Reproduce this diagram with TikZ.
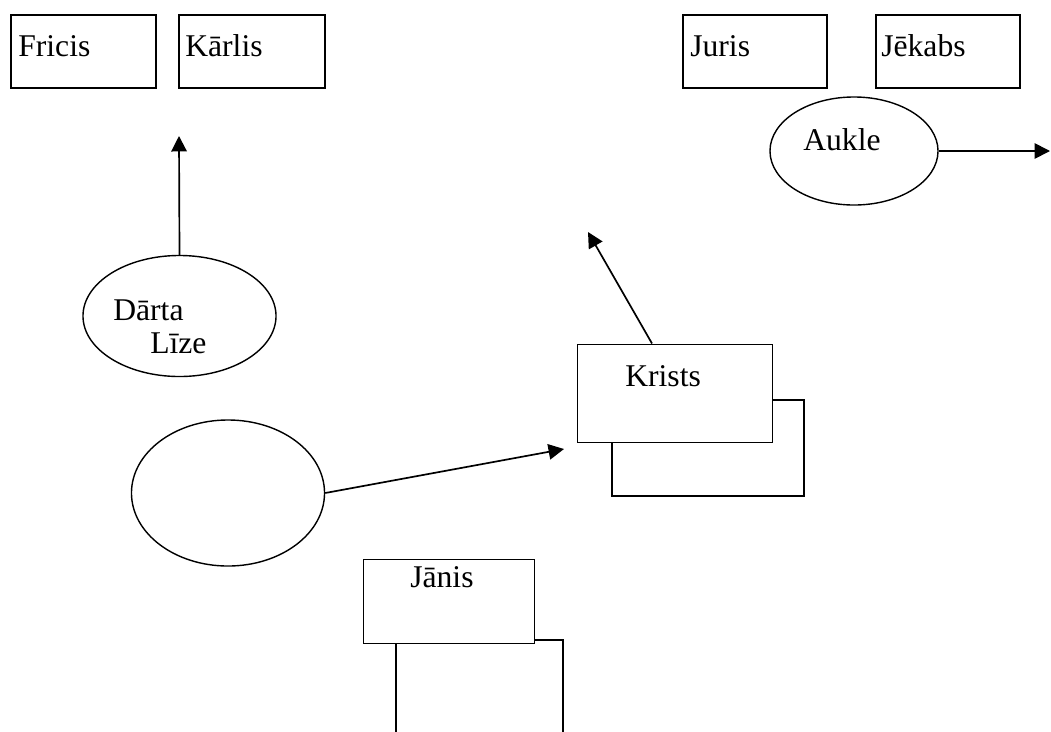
\documentclass[tikz,border=0pt]{standalone}
\usepackage{fontspec}
\setmainfont{Liberation Serif}
\usetikzlibrary{shapes.geometric,arrows.meta}

\begin{document}
\begin{tikzpicture}[x=0.025cm,y=-0.025cm]
\tikzstyle{box}=[rectangle,draw,line width=1pt,fill=white,inner sep=0pt]
\tikzstyle{backbox}=[rectangle,draw,line width=1.4pt,inner sep=0pt]
\tikzstyle{oval}=[ellipse,draw,line width=1pt,inner sep=0pt]
\tikzstyle{lbl}=[anchor=base west,inner sep=0pt,font=\fontsize{22.5}{26}\selectfont]
\tikzstyle{arr}=[line width=1.2pt,-{Triangle[length=11pt,width=11pt]}]
\useasboundingbox (0,0) rectangle (1051,731);
\clip (0,0) rectangle (1051,731);
% top row
\node [box,minimum width=3.625cm,minimum height=1.825cm] (fr) at (83.5,51.5) {};
\node [box,minimum width=3.65cm,minimum height=1.825cm] (ka) at (252,51.5) {};
\node [box,minimum width=3.6cm,minimum height=1.825cm] (ju) at (755,51.5) {};
\node [box,minimum width=3.6cm,minimum height=1.825cm] (je) at (948,51.5) {};
\node [lbl] (frt) at (18,56) {Fricis};
\node [lbl] (kat) at (185,56) {Kārlis};
\node [lbl] (jut) at (690,56) {Juris};
\node [lbl] (jet) at (881,56) {Jēkabs};
% ovals
\node [oval,minimum width=4.2cm,minimum height=2.7cm] (au) at (854,151) {};
\node [lbl] (aut) at (803,150) {Aukle};
\node [oval,minimum width=4.825cm,minimum height=3.025cm] (dl) at (179.5,316) {};
\node [lbl] (dlt) at (113,320) {Dārta};
\node [lbl] (dlt2) at (150,353) {Līze};
\node [oval,minimum width=4.825cm,minimum height=3.65cm] (ov) at (228,493) {};
% double boxes
\node [backbox,minimum width=4.8cm,minimum height=2.4cm] (krb) at (708,448) {};
\node [box,line width=0.7pt,minimum width=4.85cm,minimum height=2.45cm] (kr) at (675,393) {};
\node [lbl] (krt) at (625,386) {Krists};
\node [backbox,minimum width=4.175cm,minimum height=3.5cm] (jab) at (479.5,710) {};
\node [box,line width=0.7pt,minimum width=4.25cm,minimum height=2.1cm] (ja) at (449,601) {};
\node [lbl] (jat) at (410,587) {Jānis};
% arrows
\coordinate (dlend) at (179,136);
\coordinate (auend) at (1050,151);
\coordinate (krend) at (588,232);
\coordinate (ovend) at (564,449);
\draw [arr] (dl.north) -- (dlend);
\draw [arr] (au.east) -- (auend);
\draw [arr] ([xshift=-0.575cm]kr.north) -- (krend);
\draw [arr] (ov.east) -- (ovend);
\end{tikzpicture}
\end{document}
